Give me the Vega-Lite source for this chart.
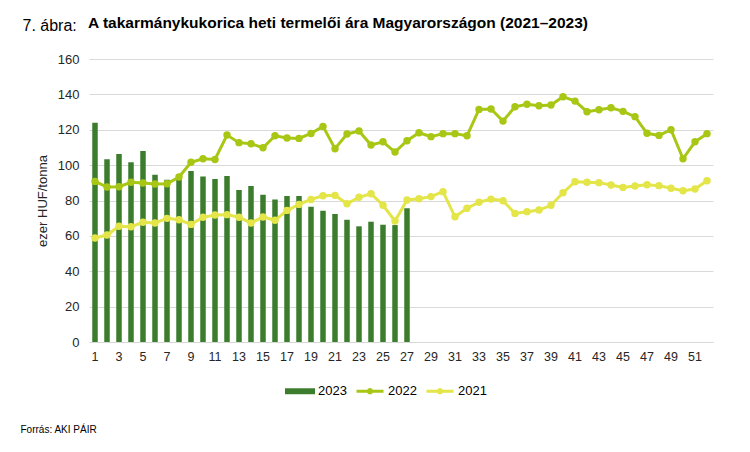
{
  "$schema": "https://vega.github.io/schema/vega-lite/v6.json",
  "width": 624,
  "height": 283,
  "autosize": {"type": "none"},
  "padding": {"left": 89, "top": 59, "right": 37, "bottom": 110},
  "background": "white",
  "title": {
    "text": "A takarmánykukorica heti termelői ára Magyarországon (2021–2023)",
    "anchor": "start",
    "frame": "group",
    "dx": -1,
    "dy": 22,
    "font": "Liberation Sans",
    "fontSize": 15.5,
    "fontWeight": "bold",
    "color": "#000000",
    "offset": 8
  },
  "config": {
    "view": {"stroke": null},
    "axis": {"labelColor": "#262626", "titleColor": "#262626"}
  },
  "datasets": {
    "bars": [
      {"week": 1, "series": "2023", "value": 124},
      {"week": 2, "series": "2023", "value": 103.3},
      {"week": 3, "series": "2023", "value": 106.3},
      {"week": 4, "series": "2023", "value": 101.6},
      {"week": 5, "series": "2023", "value": 108},
      {"week": 6, "series": "2023", "value": 94.6},
      {"week": 7, "series": "2023", "value": 91.8},
      {"week": 8, "series": "2023", "value": 93},
      {"week": 9, "series": "2023", "value": 96.7},
      {"week": 10, "series": "2023", "value": 93.5},
      {"week": 11, "series": "2023", "value": 92.1},
      {"week": 12, "series": "2023", "value": 93.8},
      {"week": 13, "series": "2023", "value": 85.9},
      {"week": 14, "series": "2023", "value": 88.2},
      {"week": 15, "series": "2023", "value": 83.3},
      {"week": 16, "series": "2023", "value": 80.6},
      {"week": 17, "series": "2023", "value": 82.5},
      {"week": 18, "series": "2023", "value": 82.5},
      {"week": 19, "series": "2023", "value": 76.5},
      {"week": 20, "series": "2023", "value": 74.2},
      {"week": 21, "series": "2023", "value": 72.4},
      {"week": 22, "series": "2023", "value": 69.1},
      {"week": 23, "series": "2023", "value": 65.4},
      {"week": 24, "series": "2023", "value": 68},
      {"week": 25, "series": "2023", "value": 66.3},
      {"week": 26, "series": "2023", "value": 66.1},
      {"week": 27, "series": "2023", "value": 75.6}
    ],
    "lines": [
      {"week": 1, "series": "2022", "value": 90.8},
      {"week": 2, "series": "2022", "value": 87.6},
      {"week": 3, "series": "2022", "value": 87.8},
      {"week": 4, "series": "2022", "value": 90.3},
      {"week": 5, "series": "2022", "value": 89.9},
      {"week": 6, "series": "2022", "value": 89.3},
      {"week": 7, "series": "2022", "value": 89.5},
      {"week": 8, "series": "2022", "value": 93.3},
      {"week": 9, "series": "2022", "value": 101.6},
      {"week": 10, "series": "2022", "value": 103.6},
      {"week": 11, "series": "2022", "value": 103.2},
      {"week": 12, "series": "2022", "value": 117},
      {"week": 13, "series": "2022", "value": 112.7},
      {"week": 14, "series": "2022", "value": 112.1},
      {"week": 15, "series": "2022", "value": 109.8},
      {"week": 16, "series": "2022", "value": 116.6},
      {"week": 17, "series": "2022", "value": 115.3},
      {"week": 18, "series": "2022", "value": 115.1},
      {"week": 19, "series": "2022", "value": 117.9},
      {"week": 20, "series": "2022", "value": 121.9},
      {"week": 21, "series": "2022", "value": 109.3},
      {"week": 22, "series": "2022", "value": 117.6},
      {"week": 23, "series": "2022", "value": 119.3},
      {"week": 24, "series": "2022", "value": 111.4},
      {"week": 25, "series": "2022", "value": 113.2},
      {"week": 26, "series": "2022", "value": 107.4},
      {"week": 27, "series": "2022", "value": 113.8},
      {"week": 28, "series": "2022", "value": 118.3},
      {"week": 29, "series": "2022", "value": 116.1},
      {"week": 30, "series": "2022", "value": 117.8},
      {"week": 31, "series": "2022", "value": 117.8},
      {"week": 32, "series": "2022", "value": 116.6},
      {"week": 33, "series": "2022", "value": 131.5},
      {"week": 34, "series": "2022", "value": 131.7},
      {"week": 35, "series": "2022", "value": 124.9},
      {"week": 36, "series": "2022", "value": 133},
      {"week": 37, "series": "2022", "value": 134.4},
      {"week": 38, "series": "2022", "value": 133.6},
      {"week": 39, "series": "2022", "value": 134},
      {"week": 40, "series": "2022", "value": 138.7},
      {"week": 41, "series": "2022", "value": 136.2},
      {"week": 42, "series": "2022", "value": 130.2},
      {"week": 43, "series": "2022", "value": 131.3},
      {"week": 44, "series": "2022", "value": 132.4},
      {"week": 45, "series": "2022", "value": 130.4},
      {"week": 46, "series": "2022", "value": 127.4},
      {"week": 47, "series": "2022", "value": 118},
      {"week": 48, "series": "2022", "value": 116.8},
      {"week": 49, "series": "2022", "value": 120},
      {"week": 50, "series": "2022", "value": 103.6},
      {"week": 51, "series": "2022", "value": 113.2},
      {"week": 52, "series": "2022", "value": 117.8},
      {"week": 1, "series": "2021", "value": 58.8},
      {"week": 2, "series": "2021", "value": 60.5},
      {"week": 3, "series": "2021", "value": 65.4},
      {"week": 4, "series": "2021", "value": 65.2},
      {"week": 5, "series": "2021", "value": 67.7},
      {"week": 6, "series": "2021", "value": 67.3},
      {"week": 7, "series": "2021", "value": 69.9},
      {"week": 8, "series": "2021", "value": 69.1},
      {"week": 9, "series": "2021", "value": 66.5},
      {"week": 10, "series": "2021", "value": 70.5},
      {"week": 11, "series": "2021", "value": 71.8},
      {"week": 12, "series": "2021", "value": 72},
      {"week": 13, "series": "2021", "value": 70.5},
      {"week": 14, "series": "2021", "value": 67.3},
      {"week": 15, "series": "2021", "value": 70.7},
      {"week": 16, "series": "2021", "value": 68.8},
      {"week": 17, "series": "2021", "value": 74.4},
      {"week": 18, "series": "2021", "value": 77.8},
      {"week": 19, "series": "2021", "value": 80.6},
      {"week": 20, "series": "2021", "value": 82.7},
      {"week": 21, "series": "2021", "value": 82.9},
      {"week": 22, "series": "2021", "value": 78.2},
      {"week": 23, "series": "2021", "value": 81.8},
      {"week": 24, "series": "2021", "value": 83.8},
      {"week": 25, "series": "2021", "value": 77.3},
      {"week": 26, "series": "2021", "value": 68.4},
      {"week": 27, "series": "2021", "value": 80.3},
      {"week": 28, "series": "2021", "value": 81},
      {"week": 29, "series": "2021", "value": 82.2},
      {"week": 30, "series": "2021", "value": 85},
      {"week": 31, "series": "2021", "value": 70.8},
      {"week": 32, "series": "2021", "value": 75.6},
      {"week": 33, "series": "2021", "value": 79},
      {"week": 34, "series": "2021", "value": 80.8},
      {"week": 35, "series": "2021", "value": 79.9},
      {"week": 36, "series": "2021", "value": 72.7},
      {"week": 37, "series": "2021", "value": 73.7},
      {"week": 38, "series": "2021", "value": 74.6},
      {"week": 39, "series": "2021", "value": 77.3},
      {"week": 40, "series": "2021", "value": 84.4},
      {"week": 41, "series": "2021", "value": 90.6},
      {"week": 42, "series": "2021", "value": 90.3},
      {"week": 43, "series": "2021", "value": 90.1},
      {"week": 44, "series": "2021", "value": 88.8},
      {"week": 45, "series": "2021", "value": 87.4},
      {"week": 46, "series": "2021", "value": 88.2},
      {"week": 47, "series": "2021", "value": 88.9},
      {"week": 48, "series": "2021", "value": 88.4},
      {"week": 49, "series": "2021", "value": 86.9},
      {"week": 50, "series": "2021", "value": 85.5},
      {"week": 51, "series": "2021", "value": 86.5},
      {"week": 52, "series": "2021", "value": 91.2}
    ]
  },
  "resolve": {"axis": {"x": "independent"}},
  "encoding": {
    "y": {
      "field": "value",
      "type": "quantitative",
      "scale": {"domain": [0, 160]},
      "axis": {
        "values": [0,20,40,60,80,100,120,140,160],
        "tickCount": 20,
        "labelOverlap": false,
        "title": "ezer HUF/tonna",
        "titleFont": "Liberation Sans",
        "titleFontSize": 13,
        "titleFontWeight": "normal",
        "titlePadding": 8,
        "labelFont": "Liberation Sans",
        "labelFontSize": 13,
        "labelPadding": 10,
        "ticks": false,
        "domain": false,
        "gridColor": "#d9d9d9",
        "gridWidth": 1
      }
    },
    "color": {
      "field": "series",
      "type": "nominal",
      "scale": {"domain": ["2023", "2022", "2021"], "range": ["#3b7d2c", "#a8c714", "#e3e548"]},
      "legend": {
        "orient": "none",
        "legendX": 196,
        "legendY": 317,
        "direction": "horizontal",
        "title": null,
        "labelFont": "Liberation Sans",
        "labelFontSize": 13,
        "labelColor": "#000000",
        "symbolSize": 729,
        "symbolStrokeWidth": 3,
        "columnPadding": 3,
        "labelOffset": 3,
        "encode": {
          "symbols": {
            "update": {
              "shape": {"signal": "datum.value === '2023' ? 'M-1,-0.11H1V0.11H-1Z' : 'M-1,0H1M-0.12,0A0.12,0.12 0 1,0 0.12,0A0.12,0.12 0 1,0 -0.12,0'"},
              "fill": {"scale": "color", "field": "value"},
              "stroke": {"scale": "color", "field": "value"},
              "strokeWidth": {"value": 3},
              "opacity": {"value": 1}
            }
          }
        }
      }
    }
  },
  "layer": [
    {
      "data": {"name": "bars"},
      "mark": {"type": "bar", "width": 5.5},
      "encoding": {
        "x": {
          "field": "week",
          "type": "ordinal",
          "scale": {"domain": [1,2,3,4,5,6,7,8,9,10,11,12,13,14,15,16,17,18,19,20,21,22,23,24,25,26,27,28,29,30,31,32,33,34,35,36,37,38,39,40,41,42,43,44,45,46,47,48,49,50,51,52], "paddingInner": 0, "paddingOuter": 0},
          "axis": {
            "orient": "bottom",
            "values": [1,3,5,7,9,11,13,15,17,19,21,23,25,27,29,31,33,35,37,39,41,43,45,47,49,51],
            "labelAngle": 0,
            "labelFont": "Liberation Sans",
            "labelFontSize": 12.5,
            "labelPadding": 8,
            "labelOverlap": false,
            "ticks": false,
            "domainColor": "#d9d9d9",
            "domainWidth": 1,
            "grid": false,
            "title": "Forrás: AKI PÁIR",
            "titleFont": "Liberation Sans",
            "titleFontSize": 10,
            "titleFontWeight": "normal",
            "titleColor": "#000000",
            "titleAnchor": "start",
            "titleAlign": "left",
            "titleBaseline": "alphabetic",
            "titleX": -69,
            "titleY": 90
          }
        }
      }
    },
    {
      "data": {"name": "lines"},
      "mark": {"type": "line", "strokeWidth": 3, "point": {"filled": true, "size": 55, "opacity": 1}},
      "encoding": {
        "x": {
          "field": "week",
          "type": "ordinal",
          "axis": {
            "orient": "top",
            "labels": false,
            "ticks": false,
            "domain": false,
            "grid": false,
            "title": "7. ábra:",
            "titleFont": "Liberation Sans",
            "titleFontSize": 16,
            "titleFontWeight": "normal",
            "titleColor": "#000000",
            "titleAnchor": "start",
            "titleAlign": "left",
            "titleBaseline": "alphabetic",
            "titleX": -67,
            "titleY": -29
          }
        }
      }
    }
  ]
}
